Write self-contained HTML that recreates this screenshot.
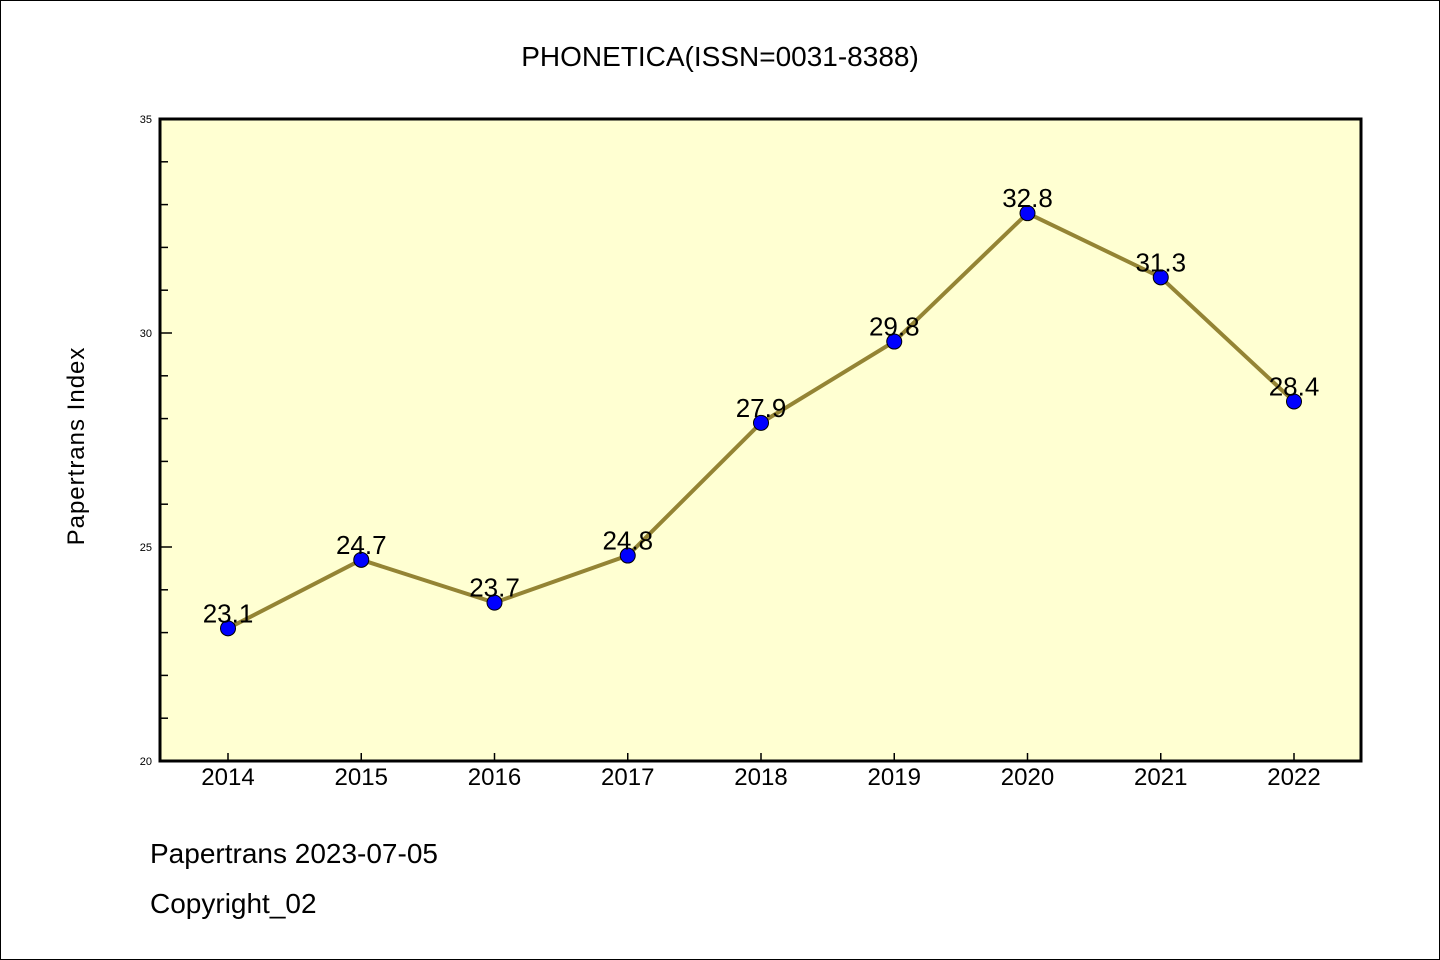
<!DOCTYPE html>
<html><head><meta charset="utf-8"><style>
body{margin:0;background:#fff}
svg{display:block;font-family:"Liberation Sans",sans-serif}
</style></head><body>
<svg width="1440" height="960">
<rect x="0.5" y="0.5" width="1439" height="959" fill="#fff" stroke="#000"/>
<text x="720" y="66" font-size="28" text-anchor="middle">PHONETICA(ISSN=0031-8388)</text>
<rect x="160" y="119" width="1201" height="642" fill="#ffffd2"/>
<g id="axes"></g>
<g id="marks"></g>
<rect x="160" y="119" width="1201" height="642" fill="none" stroke="#000" stroke-width="3"/>
<text transform="translate(84,446) rotate(-90)" font-size="24" text-anchor="middle" letter-spacing="1">Papertrans Index</text>
<text x="150" y="863" font-size="28">Papertrans 2023-07-05</text>
<text x="150" y="913" font-size="28">Copyright_02</text>
</svg>
<script>
const years=[2014,2015,2016,2017,2018,2019,2020,2021,2022];
const values=[23.1,24.7,23.7,24.8,27.9,29.8,32.8,31.3,28.4];
const yTicks=[20,25,30,35];
const NS="http://www.w3.org/2000/svg";
const x=i=>228+i*(1294-228)/(years.length-1);
const y=v=>761-(v-20)*(642/15);
function mk(t,a,p){const e=document.createElementNS(NS,t);for(const k in a)e.setAttribute(k,a[k]);p.appendChild(e);return e;}
const ax=document.getElementById('axes'),mg=document.getElementById('marks');
for(let v=20;v<=35;v++){
 const l=mk('line',{x1:160,x2:v%5===0?172:168,y1:y(v),y2:y(v),stroke:'#000','stroke-width':1.5},ax);
 
 
}
yTicks.forEach(v=>{const t=mk('text',{x:152,y:y(v)+4,'font-size':11,'text-anchor':'end'},ax);t.textContent=v;
 
 });
years.forEach((yr,i)=>{
 const l=mk('line',{x1:x(i),x2:x(i),y1:761,y2:753,stroke:'#000','stroke-width':1.5},ax);
 
 
 const t=mk('text',{x:x(i),y:785,'font-size':24,'text-anchor':'middle'},ax);t.textContent=yr;
 
 
});
const pl=mk('polyline',{points:values.map((v,i)=>x(i)+','+y(v)).join(' '),fill:'none',stroke:'#948434','stroke-width':4},mg);


values.forEach((v,i)=>{
 const c=mk('circle',{cx:x(i),cy:y(v),r:7.5,fill:'#0000ff',stroke:'#000','stroke-width':1},mg);
 
 
 const t=mk('text',{x:x(i),y:y(v)-6,'font-size':26,'text-anchor':'middle'},mg);t.textContent=v.toFixed(1);
 
 
});
</script>
</body></html>
